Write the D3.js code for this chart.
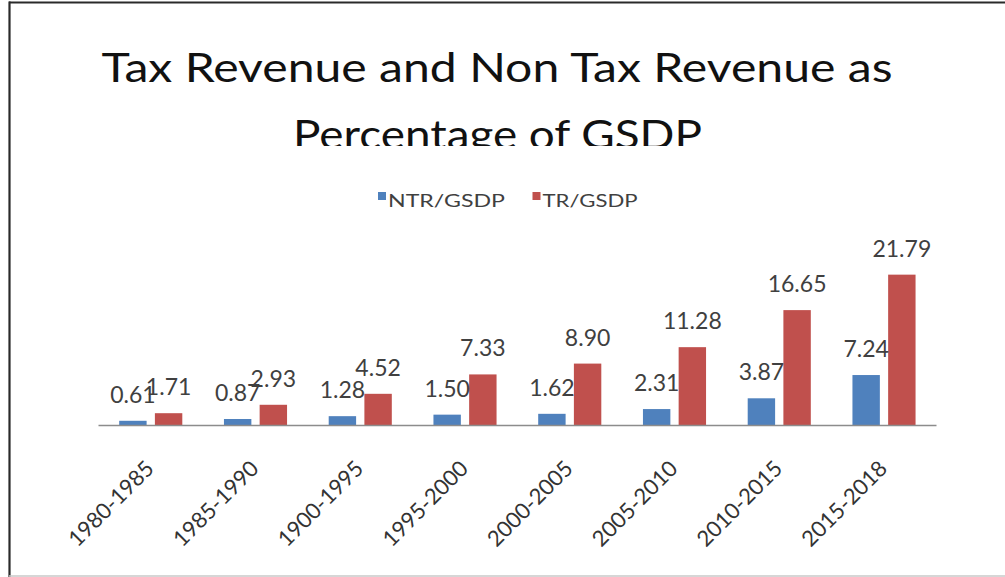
<!DOCTYPE html>
<html>
<head>
<meta charset="utf-8">
<script src="https://cdn.jsdelivr.net/npm/d3@7/dist/d3.min.js"></script>
<style>
  html, body { margin: 0; padding: 0; background: #fff; }
  svg { display: block; }
  text { font-family: Lato, "Open Sans", sans-serif; }
</style>
</head>
<body>
<svg id="chart" width="1005" height="577"></svg>
<script>
// Periods shown along the category axis
const periods = ["1980-1985", "1985-1990", "1900-1995", "1995-2000",
                 "2000-2005", "2005-2010", "2010-2015", "2015-2018"];
// Non-tax revenue as % of GSDP
const ntrValues = [0.61, 0.87, 1.28, 1.50, 1.62, 2.31, 3.87, 7.24];
// Tax revenue as % of GSDP
const trValues = [1.71, 2.93, 4.52, 7.33, 8.90, 11.28, 16.65, 21.79];
const seriesNames = ["NTR/GSDP", "TR/GSDP"];
const seriesColors = ["#4F81BD", "#C0504D"];
const titleLines = ["Tax Revenue and Non Tax Revenue as", "Percentage of GSDP"];

const svg = d3.select("#chart");

// frame around the chart area
svg.append("line").attr("x1", 9).attr("x2", 1005).attr("y1", 2.5).attr("y2", 2.5)
  .attr("stroke", "#2a2a2a").attr("stroke-width", 2.2);
svg.append("line").attr("x1", 9.5).attr("x2", 9.5).attr("y1", 1.5).attr("y2", 577)
  .attr("stroke", "#2a2a2a").attr("stroke-width", 2.2);
svg.append("line").attr("x1", 9).attr("x2", 1005).attr("y1", 576).attr("y2", 576)
  .attr("stroke", "#c8c8c8").attr("stroke-width", 1.5);

// title, second line is cut off at the bottom edge of its box
svg.append("defs").append("clipPath").attr("id", "titleClip")
  .append("rect").attr("x", 0).attr("y", 0).attr("width", 1005).attr("height", 146);

const title = svg.append("g").attr("clip-path", "url(#titleClip)");
title.append("text")
  .attr("x", 497).attr("y", 82)
  .attr("text-anchor", "middle")
  .attr("font-size", 40)
  .attr("fill", "#111")
  .attr("textLength", 791).attr("lengthAdjust", "spacingAndGlyphs")
  .text(titleLines[0]);
title.append("text")
  .attr("x", 497.5).attr("y", 149)
  .attr("text-anchor", "middle")
  .attr("font-size", 40)
  .attr("fill", "#111")
  .attr("textLength", 409).attr("lengthAdjust", "spacingAndGlyphs")
  .text(titleLines[1]);

// legend
const legendItems = [
  { name: seriesNames[0], color: seriesColors[0], x: 378, w: 117 },
  { name: seriesNames[1], color: seriesColors[1], x: 532.5, w: 95 }
];
const legend = svg.append("g");
legend.selectAll("rect").data(legendItems).enter().append("rect")
  .attr("x", d => d.x).attr("y", 192).attr("width", 8).attr("height", 8)
  .attr("fill", d => d.color);
legend.selectAll("text").data(legendItems).enter().append("text")
  .attr("x", d => d.x + 10).attr("y", 207)
  .attr("font-size", 17)
  .attr("fill", "#404040")
  .attr("textLength", d => d.w).attr("lengthAdjust", "spacingAndGlyphs")
  .text(d => d.name);

// scales
const x0 = d3.scaleBand().domain(periods).range([98, 936]).paddingInner(0).paddingOuter(0);
const x1 = d3.scaleBand().domain(seriesNames).range([21.2, 84.3]).paddingInner(0.232).paddingOuter(0);
const y = d3.scaleLinear().domain([0, 25]).range([425, 425 - 25 * 6.9]);

const rows = periods.map((p, i) => ({
  period: p,
  values: [
    { key: seriesNames[0], value: ntrValues[i], color: seriesColors[0] },
    { key: seriesNames[1], value: trValues[i], color: seriesColors[1] }
  ]
}));

const groups = svg.append("g").selectAll("g").data(rows).enter().append("g")
  .attr("transform", d => `translate(${x0(d.period)},0)`);

groups.selectAll("rect").data(d => d.values).enter().append("rect")
  .attr("x", d => x1(d.key))
  .attr("width", x1.bandwidth())
  .attr("y", d => y(d.value))
  .attr("height", d => y(0) - y(d.value))
  .attr("fill", d => d.color);

// value labels above each bar
groups.selectAll("text").data(d => d.values).enter().append("text")
  .attr("x", d => x1(d.key) + x1.bandwidth() / 2)
  .attr("y", d => y(d.value) - 18)
  .attr("text-anchor", "middle")
  .attr("font-size", 23)
  .attr("fill", "#404040")
  .text(d => d.value.toFixed(2));

// category axis
const xAxis = d3.axisBottom(x0).tickSize(0).tickPadding(0);
const axisG = svg.append("g").attr("transform", `translate(0,${y(0)})`).call(xAxis);
axisG.select(".domain").attr("stroke", "#8c8c8c").attr("stroke-width", 1.5);
axisG.selectAll(".tick text")
  .attr("font-size", 22)
  .attr("fill", "#333")
  .attr("font-family", "Lato, 'Open Sans', sans-serif")
  .attr("text-anchor", "end")
  .attr("dy", null)
  .attr("y", null)
  .attr("transform", `translate(5,${470 - y(0)}) rotate(-45)`);
</script>
</body>
</html>
